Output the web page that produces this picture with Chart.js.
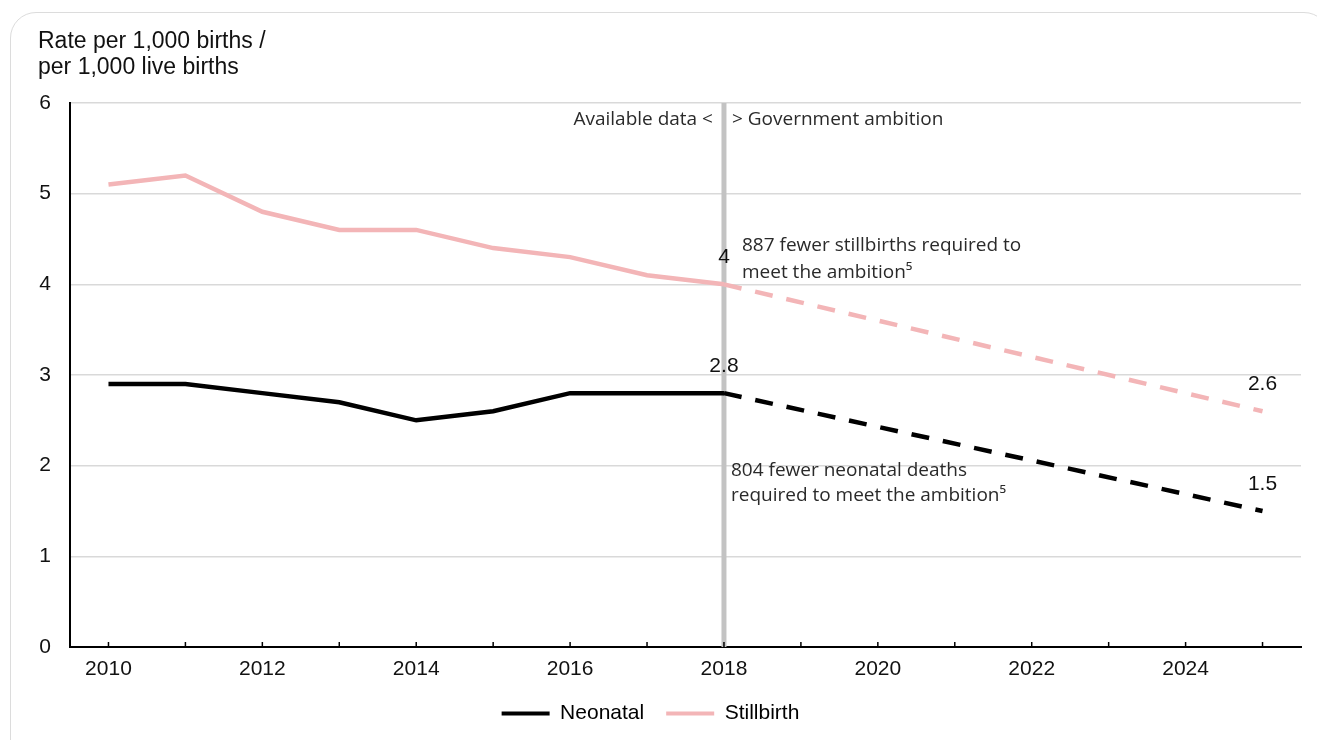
<!DOCTYPE html>
<html>
<head>
<meta charset="utf-8">
<script src="https://cdn.jsdelivr.net/npm/chart.js@4.4.1/dist/chart.umd.min.js"></script>
<style>
    html, body { margin: 0; padding: 0; background: #fff; }
    #wrap { position: relative; width: 1317px; height: 740px; overflow: hidden; }
    #card {
        position: absolute; left: 10px; top: 12px; width: 1320px; height: 760px;
        border: 1px solid #dcdcdc; border-radius: 26px; box-sizing: border-box;
    }
    #title {
        position: absolute; left: 38px; top: 27px;
        font-family: "Liberation Sans", Arial, sans-serif; font-size: 23px;
        line-height: 26px; color: #111;
    }
    #chart { position: absolute; left: 0; top: 0; }
</style>
</head>
<body>
<div id="wrap">
    <div id="card"></div>
    <canvas id="chart" width="1317" height="740"></canvas>
    <div id="title">Rate per 1,000 births /<br>per 1,000 live births</div>
</div>
<script>
/* ------------------------------------------------------------
   Données
------------------------------------------------------------ */
const years = ["2010", "2011", "2012", "2013", "2014", "2015", "2016", "2017",
               "2018", "2019", "2020", "2021", "2022", "2023", "2024", "2025"];

// valeurs observées jusqu'en 2018, puis objectif 2025 (null = pas de point)
const neonatal = [2.9, 2.9, 2.8, 2.7, 2.5, 2.6, 2.8, 2.8, 2.8,
                  null, null, null, null, null, null, 1.5];
const stillbirth = [5.1, 5.2, 4.8, 4.6, 4.6, 4.4, 4.3, 4.1, 4.0,
                    null, null, null, null, null, null, 2.6];

const yTicks = [0, 1, 2, 3, 4, 5, 6];
const splitYear = "2018";

// étiquettes de valeurs [dataset, index]
const valueLabels = [[1, 8], [0, 8], [1, 15], [0, 15]];

const NEO_COLOR = "#000000";
const STILL_COLOR = "#f3b5b7";
const LABEL_FONT = '"Liberation Sans", Arial, sans-serif';
const NOTE_FONT = '"Open Sans", "Noto Sans", sans-serif';

/* ------------------------------------------------------------
   Segments pointillés après la ligne de séparation
------------------------------------------------------------ */
const splitIndex = years.indexOf(splitYear);
const dashAfterSplit = ctx => ctx.p0DataIndex >= splitIndex ? [18, 14] : undefined;

/* ------------------------------------------------------------
   Plugin : ligne 2018, petits traits, étiquettes, annotations
------------------------------------------------------------ */
const extrasPlugin = {
    id: "extras",
    beforeDatasetsDraw(chart) {
        const { ctx, chartArea, scales } = chart;
        const x = scales.x.getPixelForValue(splitIndex);
        ctx.save();
        ctx.strokeStyle = "#c3c3c3";
        ctx.lineWidth = 5;
        ctx.beginPath();
        ctx.moveTo(x, chartArea.top);
        ctx.lineTo(x, chartArea.bottom);
        ctx.stroke();

        // traits de graduation vers l'intérieur
        ctx.strokeStyle = "#000";
        ctx.lineWidth = 1.5;
        years.forEach((y, i) => {
            const px = scales.x.getPixelForValue(i);
            ctx.beginPath();
            ctx.moveTo(px, chartArea.bottom);
            ctx.lineTo(px, chartArea.bottom - 5);
            ctx.stroke();
        });
        ctx.restore();
    },
    afterDatasetsDraw(chart) {
        const { ctx, scales } = chart;
        ctx.save();
        ctx.fillStyle = "#111";
        ctx.font = "21px " + LABEL_FONT;
        ctx.textAlign = "center";
        ctx.textBaseline = "middle";
        valueLabels.forEach(([d, i]) => {
            const v = chart.data.datasets[d].data[i];
            const px = scales.x.getPixelForValue(i);
            const py = scales.y.getPixelForValue(v);
            ctx.fillText(String(v), px, py - 27);
        });

        // annotations
        const sx = scales.x.getPixelForValue(splitIndex);
        ctx.fillStyle = "#2a2a2a";
        ctx.font = "19px " + NOTE_FONT;
        ctx.textBaseline = "alphabetic";
        ctx.textAlign = "right";
        ctx.fillText("Available data <", sx - 11, scales.y.getPixelForValue(5.76));
        ctx.textAlign = "left";
        ctx.fillText("> Government ambition", sx + 8, scales.y.getPixelForValue(5.76));

        ctx.fillText("887 fewer stillbirths required to", sx + 18, scales.y.getPixelForValue(4.37));
        ctx.fillText("meet the ambition\u2075", sx + 18, scales.y.getPixelForValue(4.07));

        ctx.fillText("804 fewer neonatal deaths", sx + 7, scales.y.getPixelForValue(1.89));
        ctx.fillText("required to meet the ambition\u2075", sx + 7, scales.y.getPixelForValue(1.61));
        ctx.restore();
    }
};

/* ------------------------------------------------------------
   Graphique
------------------------------------------------------------ */
new Chart(document.getElementById("chart"), {
    type: "line",
    data: {
        labels: years,
        datasets: [
            {
                label: "Neonatal",
                data: neonatal,
                borderColor: NEO_COLOR,
                backgroundColor: NEO_COLOR,
                borderWidth: 4.5,
                pointRadius: 0,
                spanGaps: true,
                tension: 0,
                segment: { borderDash: dashAfterSplit }
            },
            {
                label: "Stillbirth",
                data: stillbirth,
                borderColor: STILL_COLOR,
                backgroundColor: STILL_COLOR,
                borderWidth: 4.5,
                pointRadius: 0,
                spanGaps: true,
                tension: 0,
                segment: { borderDash: dashAfterSplit }
            }
        ]
    },
    options: {
        responsive: false,
        animation: false,
        layout: { padding: { left: 0, right: 16, top: 103, bottom: 6 } },
        plugins: {
            legend: {
                position: "bottom",
                labels: {
                    boxWidth: 48,
                    boxHeight: 4,
                    padding: 22,
                    color: "#111",
                    font: { family: LABEL_FONT, size: 21 },
                    generateLabels: chart => chart.data.datasets.map((ds, i) => ({
                        text: ds.label,
                        fillStyle: ds.borderColor,
                        strokeStyle: ds.borderColor,
                        lineWidth: 0,
                        datasetIndex: i
                    }))
                }
            },
            tooltip: { enabled: false }
        },
        scales: {
            x: {
                offset: true,
                grid: { display: false, drawTicks: false },
                border: { color: "#000", width: 2 },
                ticks: {
                    autoSkip: false,
                    maxRotation: 0,
                    padding: 10,
                    color: "#111",
                    font: { family: LABEL_FONT, size: 21 },
                    callback: (val, i) => (Number(years[i]) % 2 === 0 ? years[i] : "")
                },
                afterFit: scale => { scale.height = 34; }
            },
            y: {
                min: 0,
                max: 6,
                afterBuildTicks: scale => { scale.ticks = yTicks.map(v => ({ value: v })); },
                grid: { color: "#d9d9d9", lineWidth: 1.5, drawTicks: false },
                border: { color: "#000", width: 2 },
                ticks: {
                    padding: 19,
                    color: "#111",
                    font: { family: LABEL_FONT, size: 21 }
                },
                afterFit: scale => { scale.width = 70; }
            }
        }
    },
    plugins: [extrasPlugin]
});
</script>
</body>
</html>
